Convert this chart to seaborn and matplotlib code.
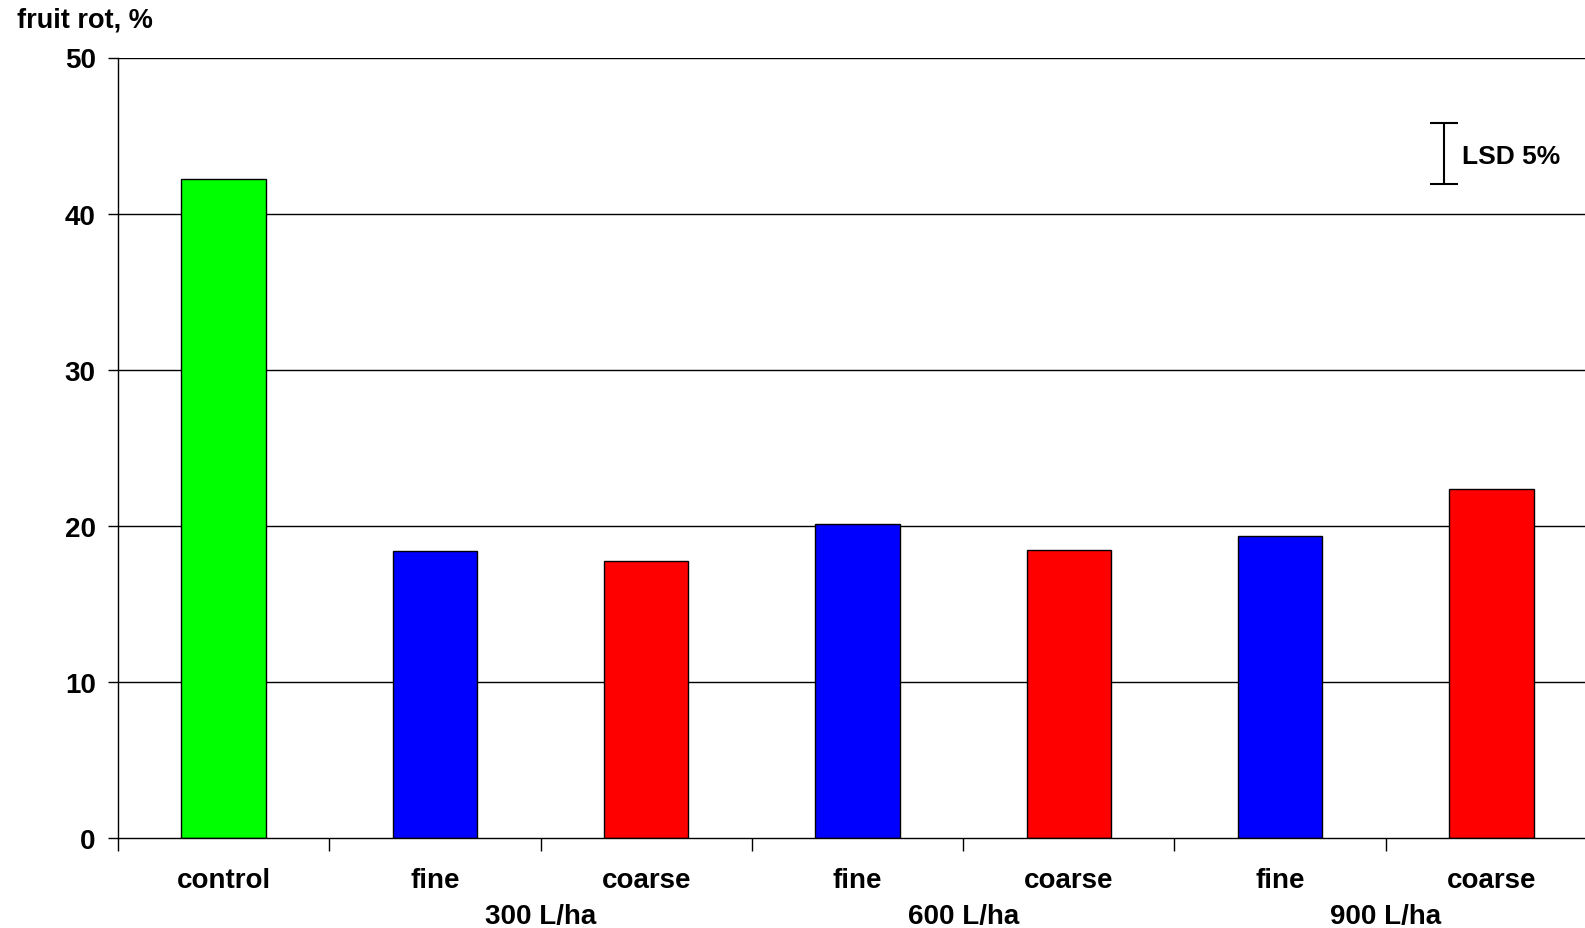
import matplotlib
matplotlib.use("Agg")
import matplotlib.pyplot as plt
import matplotlib.transforms as mtransforms
import seaborn as sns
import pandas as pd

# Fruit rot by spray volume and droplet size
bar_ids = ["c", "f300", "c300", "f600", "c600", "f900", "c900"]
bar_labels = ["control", "fine", "coarse", "fine", "coarse", "fine", "coarse"]
rot_pct = [42.2, 18.4, 17.75, 20.1, 18.45, 19.35, 22.35]
treatment = ["control", "fine", "coarse", "fine", "coarse", "fine", "coarse"]
volume_labels = ["300 L/ha", "600 L/ha", "900 L/ha"]
lsd_value = 3.9
lsd_center = 43.85
y_ticks = [0, 10, 20, 30, 40, 50]

sns.set_theme(style="white")
plt.rcParams["font.family"] = ["Liberation Sans", "DejaVu Sans"]
plt.rcParams["font.weight"] = "bold"
plt.rcParams["text.color"] = "black"
plt.rcParams["xtick.color"] = "black"
plt.rcParams["ytick.color"] = "black"

df = pd.DataFrame({"bar": bar_ids, "rot": rot_pct, "kind": treatment})

fig = plt.figure(figsize=(15.85, 9.29), dpi=100)
ax = fig.add_axes([118 / 1585, 90 / 929, 1479 / 1585, 780.5 / 929])

# horizontal gridlines behind bars
for v in y_ticks[1:]:
    ax.axhline(v, color="black", lw=1.0, zorder=0)

sns.barplot(data=df, x="bar", y="rot", hue="kind", order=bar_ids,
            palette={"control": "#00ff00", "fine": "#0000ff", "coarse": "#ff0000"},
            saturation=1, width=0.4, edgecolor="black", linewidth=1.0, legend=False,
            dodge=False, ax=ax, zorder=2)

ax.set_xlim(-0.5, len(bar_ids) - 0.5)
ax.set_ylim(0, 50)
ax.set_xlabel("")
ax.set_ylabel("")

for s in ["top", "right"]:
    ax.spines[s].set_visible(False)
for s in ["left", "bottom"]:
    ax.spines[s].set_color("black")
    ax.spines[s].set_linewidth(1.0)

# y axis
ax.set_yticks(y_ticks)
ax.set_yticklabels([str(t) for t in y_ticks], fontsize=20, fontweight="bold")
ax.tick_params(axis="y", direction="out", length=7, width=1, color="black", pad=9, left=True)

# x axis: boundary ticks as major, category labels as minor
ax.set_xticks([i - 0.5 for i in range(len(bar_ids) + 1)])
ax.set_xticklabels([])
ax.tick_params(axis="x", which="major", direction="out", length=9, width=1, color="black", bottom=True)
ax.set_xticks(range(len(bar_ids)), minor=True)
ax.set_xticklabels(bar_labels, minor=True, fontsize=20, fontweight="bold")
ax.tick_params(axis="x", which="minor", length=0, pad=21)

# spray volume group labels
trans = mtransforms.blended_transform_factory(ax.transData, ax.transAxes)
for i, lab in enumerate(volume_labels):
    ax.text(1.5 + 2 * i, -0.1, lab, transform=trans, ha="center", va="center",
            fontsize=20, fontweight="bold")

# LSD bar
lsd_x = 5.775
ax.errorbar([lsd_x], [lsd_center], yerr=[lsd_value / 2], fmt="none", ecolor="black",
            elinewidth=1.5, capsize=10, capthick=1.5, zorder=3)
ax.text(lsd_x + 0.085, lsd_center - 0.15, "LSD 5%", ha="left", va="center",
        fontsize=19, fontweight="bold")

fig.text(17 / 1585, 1 - 21 / 929, "fruit rot, %", ha="left", va="center",
         fontsize=19.5, fontweight="bold")

fig.savefig("out.png", dpi=100, facecolor="white")
